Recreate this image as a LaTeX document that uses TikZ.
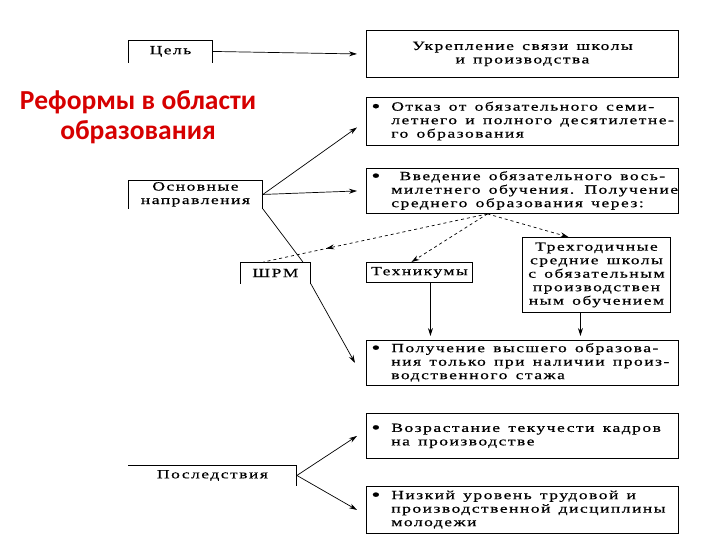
\documentclass[tikz,border=0pt]{standalone}
\usepackage{fontspec}
\usepackage{graphicx}
\setmainfont{Liberation Serif}
\newfontfamily\scanfont{Liberation Serif}[FakeStretch=1.4,LetterSpace=12,WordSpace=1.4,FakeBold=0.6]
\newfontfamily\titlefont{Carlito}
\usetikzlibrary{arrows.meta,decorations.markings}
\definecolor{titlered}{RGB}{214,0,0}
\tikzset{
  box/.style={draw, line width=0.9pt, anchor=north west, inner sep=0pt,
    font=\scanfont\fontsize{12.5}{13.5}\selectfont, align=center},
  listbox/.style={box, minimum width=312pt, text width=302pt, inner xsep=5pt, align=left},
  openbox/.style={box, draw=none},
  arr/.style={-{Stealth[length=8pt,width=5pt]}, line width=0.7pt},
  darr/.style={arr, dashed},
}
\newcommand{\bul}[1]{\spaceskip=0pt\xspaceskip=0pt
  \begin{tabular}{@{}l@{\hspace{11pt}}l@{}}#1\end{tabular}}
\newcommand{\dotmark}{\raisebox{-1.5pt}{\scalebox{1.45}{\textbullet}}}
\begin{document}
\begin{tikzpicture}[x=1pt,y=-1pt]
  \useasboundingbox (0,0) rectangle (720,540);
  % title
  \node[font=\titlefont\bfseries\fontsize{27.5}{30}\selectfont, text=titlered, align=center]
    (title) at (138,117) {Реформы в области\\образования};
  % left column
  \node[openbox, minimum width=84pt, minimum height=22pt] (goal) at (128,40) {Цель};
  \node[openbox, minimum width=134pt, minimum height=28pt] (dirs) at (128,180) {Основные\\направления};
  \node[openbox, minimum width=70pt, minimum height=21pt] (shrm) at (240,262) {ШРМ};
  \node[openbox, minimum width=168pt, minimum height=20pt] (cons) at (128,465) {Последствия};
  \draw[line width=0.9pt] (goal.south west) -- (goal.north west) -- (goal.north east) -- (goal.south east);
  \draw[line width=0.9pt] (dirs.south west) -- (dirs.north west) -- (dirs.north east) -- (dirs.south east);
  \draw[line width=0.9pt] (shrm.south west) -- (shrm.north west) -- (shrm.north east) -- (shrm.south east);
  \draw[line width=0.9pt] (cons.north west) -- (cons.north east) -- (cons.south east);
  % right column
  \node[box, minimum width=312pt, minimum height=47pt] (aim) at (366,30)
    {Укрепление связи школы\\и производства};
  \node[listbox, minimum height=48pt] (refuse) at (366,97)
    {\bul{\dotmark & Отказ от обязательного семи-\\ & летнего и полного десятилетне-\\ & го образования}};
  \node[listbox, minimum height=45pt] (intro) at (366,168)
    {\bul{\dotmark & \ Введение обязательного вось-\\ & милетнего обучения. Получение\\ & среднего образования через:}};
  \node[box, minimum width=106pt, minimum height=20pt] (tech) at (366,262) {Техникумы};
  \node[box, minimum width=148pt, minimum height=75pt] (three) at (522,237)
    {Трехгодичные\\средние школы\\с обязательным\\производствен\\ным обучением};
  \node[listbox, minimum height=45pt] (higher) at (366,340)
    {\bul{\dotmark & Получение высшего образова-\\ & ния только при наличии произ-\\ & водственного стажа}};
  \node[listbox, minimum height=45pt] (turnover) at (366,413)
    {\bul{\dotmark & Возрастание текучести кадров\\ & на производстве}};
  \node[listbox, minimum height=47pt] (discip) at (366,486)
    {\bul{\dotmark & Низкий уровень трудовой и\\ & производственной дисциплины\\ & молодежи}};
  % connectors
  \draw[arr] (goal.east) -- ([xshift=-9pt]aim.west);
  \draw[arr] (dirs.east) -- ([xshift=-9pt,yshift=-6pt]refuse.west);
  \draw[arr] (dirs.east) -- ([xshift=-9pt]intro.west);
  \draw[line width=0.7pt] (dirs.south east) -- ([xshift=-8pt]shrm.north east);
  \draw[arr] (shrm.south east) -- ([xshift=-11pt]higher.west);
  % dashed: three ways to secondary education
  \draw[dashed, line width=0.7pt, postaction={decorate, decoration={markings,
      mark=at position 0.72 with {\arrow{Stealth[length=8pt,width=5pt]}}}}]
    ([xshift=-35pt]intro.south) -- ([xshift=-12pt]shrm.north);
  \draw[darr] ([xshift=-35pt]intro.south) -- ([xshift=-8pt]tech.north);
  \draw[darr] ([xshift=-35pt]intro.south) -- ([xshift=-28pt]three.north);
  \draw[arr, shorten >=4pt] ([xshift=11pt]tech.south) -- ([xshift=11pt]tech.south |- higher.north);
  \draw[arr, shorten >=4pt] ([xshift=-16pt]three.south) -- ([xshift=-16pt]three.south |- higher.north);
  \draw[arr] (cons.east) -- ([xshift=-9pt]turnover.west);
  \draw[arr] (cons.east) -- ([xshift=-9pt]discip.west);
\end{tikzpicture}
\end{document}
